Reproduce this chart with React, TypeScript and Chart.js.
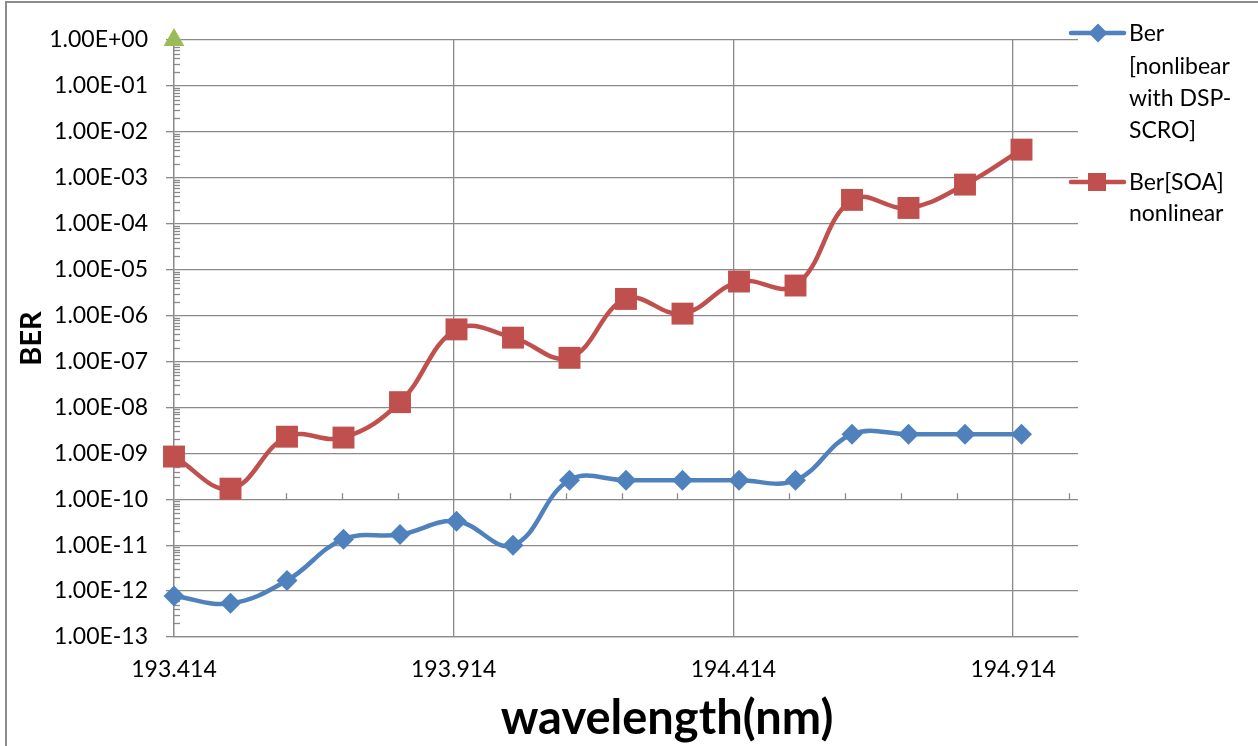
import React, { useEffect, useRef } from "react";
import { Chart, registerables } from "chart.js";

Chart.register(...registerables);

// ---- data ----
const wavelengths = [
  193.414, 193.515, 193.616, 193.717, 193.818, 193.919, 194.02, 194.121,
  194.222, 194.323, 194.424, 194.525, 194.626, 194.727, 194.828, 194.929,
];
const berDsp = [
  7.8e-13, 5.4e-13, 1.7e-12, 1.35e-11, 1.7e-11, 3.3e-11, 1.0e-11, 2.6e-10,
  2.6e-10, 2.6e-10, 2.6e-10, 2.6e-10, 2.6e-9, 2.6e-9, 2.6e-9, 2.6e-9,
];
const berSoa = [
  8.5e-10, 1.7e-10, 2.3e-9, 2.2e-9, 1.3e-8, 5.0e-7, 3.3e-7, 1.2e-7,
  2.3e-6, 1.1e-6, 5.5e-6, 4.5e-6, 3.3e-4, 2.2e-4, 7.1e-4, 4.1e-3,
];
const markerX = [193.414];
const markerY = [1];
const xTickValues = [193.414, 193.914, 194.414, 194.914];
const xMinorStep = 0.1;
const yExponents = [-13, -12, -11, -10, -9, -8, -7, -6, -5, -4, -3, -2, -1, 0];
const legendDsp = ["Ber", "[nonlibear", "with DSP-", "SCRO]"];
const legendSoa = ["Ber[SOA]", "nonlinear"];
const xTitle = "wavelength(nm)";
const yTitle = "BER";

const BLUE = "#4F81BD";
const RED = "#C0504D";
const GREEN = "#9BBB59";
const GRID = "#8a8a8a";
const FONT = "Lato";

function fmtExp(v: number): string {
  const e = Math.round(Math.log10(v));
  return `1.00E${e < 0 ? "-" : "+"}${String(Math.abs(e)).padStart(2, "0")}`;
}

const extrasPlugin = {
  id: "extras",
  beforeDatasetsDraw(chart: any) {
    const { ctx, chartArea, scales } = chart;
    const xs = scales.x;
    const ys = scales.y;
    ctx.save();
    ctx.strokeStyle = GRID;
    ctx.lineWidth = 1.3;
    // y minor ticks (inside)
    for (let i = 0; i < yExponents.length - 1; i++) {
      for (let k = 2; k <= 9; k++) {
        const y = Math.round(ys.getPixelForValue(k * Math.pow(10, yExponents[i]))) + 0.5;
        ctx.beginPath();
        ctx.moveTo(chartArea.left, y);
        ctx.lineTo(chartArea.left + 6, y);
        ctx.stroke();
      }
    }
    // x minor ticks on the crossing line at 1e-10
    const yc = ys.getPixelForValue(1e-10);
    for (let i = 1; i <= 16; i++) {
      if (i % 5 === 0) continue;
      const x = Math.round(xs.getPixelForValue(xTickValues[0] + i * xMinorStep)) + 0.5;
      ctx.beginPath();
      ctx.moveTo(x, yc);
      ctx.lineTo(x, yc - 6);
      ctx.stroke();
    }
    ctx.restore();
  },
  afterDraw(chart: any) {
    const { ctx } = chart;
    ctx.save();
    // frame
    ctx.strokeStyle = "#8c8c8c";
    ctx.lineWidth = 2;
    ctx.beginPath();
    ctx.moveTo(6, 800);
    ctx.lineTo(6, 2);
    ctx.lineTo(1300, 2);
    ctx.stroke();

    // x axis title
    ctx.fillStyle = "#000";
    ctx.font = `bold 47px ${FONT}`;
    ctx.textAlign = "center";
    ctx.textBaseline = "alphabetic";
    ctx.fillText(xTitle, 667, 734);

    // legend
    ctx.lineCap = "round";
    ctx.lineWidth = 4.5;
    ctx.strokeStyle = BLUE;
    ctx.beginPath();
    ctx.moveTo(1071, 33);
    ctx.lineTo(1124, 33);
    ctx.stroke();
    ctx.fillStyle = BLUE;
    ctx.beginPath();
    ctx.moveTo(1098 - 9.5, 33);
    ctx.lineTo(1098, 33 - 9.5);
    ctx.lineTo(1098 + 9.5, 33);
    ctx.lineTo(1098, 33 + 9.5);
    ctx.closePath();
    ctx.fill();

    ctx.strokeStyle = RED;
    ctx.beginPath();
    ctx.moveTo(1071, 182);
    ctx.lineTo(1124, 182);
    ctx.stroke();
    ctx.fillStyle = RED;
    ctx.fillRect(1097 - 9, 182 - 9, 18, 18);

    ctx.fillStyle = "#000";
    ctx.font = `23px ${FONT}`;
    ctx.textBaseline = "middle";
    ctx.textAlign = "left";
    legendDsp.forEach((t, i) => ctx.fillText(t, 1129, 34 + i * 32.3));
    legendSoa.forEach((t, i) => ctx.fillText(t, 1129, 183 + i * 31));
    ctx.restore();
  },
};

export default function App() {
  const ref = useRef<HTMLCanvasElement | null>(null);

  useEffect(() => {
    document.body.style.margin = "0";
    const canvas = ref.current;
    if (!canvas) return;
    const chart = new Chart(canvas, {
      type: "line",
      data: {
        datasets: [
          {
            label: "Ber [nonlibear with DSP-SCRO]",
            data: wavelengths.map((x, i) => ({ x, y: berDsp[i] })),
            borderColor: BLUE,
            backgroundColor: BLUE,
            borderWidth: 4.5,
            pointStyle: "rectRot",
            pointRadius: 10.5,
            pointBorderWidth: 0,
            tension: 0.4,
            clip: false,
          },
          {
            label: "Ber[SOA] nonlinear",
            data: wavelengths.map((x, i) => ({ x, y: berSoa[i] })),
            borderColor: RED,
            backgroundColor: RED,
            borderWidth: 4.5,
            pointStyle: "rect",
            pointRadius: 15.5,
            pointBorderWidth: 0,
            tension: 0.4,
            clip: false,
          },
          {
            label: "marker",
            data: markerX.map((x, i) => ({ x, y: markerY[i] })),
            borderColor: GREEN,
            backgroundColor: GREEN,
            showLine: false,
            pointStyle: "triangle",
            pointRadius: 12,
            pointBorderWidth: 0,
            clip: false,
          },
        ],
      },
      options: {
        responsive: false,
        animation: false,
        layout: { padding: { top: 40, right: 180, bottom: 0, left: 0 } },
        plugins: { legend: { display: false }, tooltip: { enabled: false } },
        font: { family: FONT },
        scales: {
          x: {
            type: "linear",
            min: 193.414,
            max: 195.03,
            afterBuildTicks: (s: any) => {
              s.ticks = xTickValues.map((v) => ({ value: v }));
            },
            afterFit: (s: any) => {
              s.height = 109;
            },
            ticks: {
              callback: (v: any) => Number(v).toFixed(3),
              font: { family: FONT, size: 23 },
              color: "#000",
              padding: 19,
              maxRotation: 0,
              autoSkip: false,
            },
            grid: { color: GRID, lineWidth: 1.3, drawTicks: false },
            border: { color: GRID, width: 1.3 },
            title: { display: false },
          },
          y: {
            type: "logarithmic",
            min: 1e-13,
            max: 1,
            afterBuildTicks: (s: any) => {
              s.ticks = yExponents.map((e) => ({ value: Math.pow(10, e) }));
            },
            afterFit: (s: any) => {
              s.width = 174;
            },
            ticks: {
              callback: (v: any) => fmtExp(Number(v)),
              font: { family: FONT, size: 23 },
              color: "#000",
              padding: 18,
              autoSkip: false,
            },
            grid: { color: GRID, lineWidth: 1.3, tickLength: 8 },
            border: { color: GRID, width: 1.3 },
            title: {
              display: true,
              text: yTitle,
              font: { family: FONT, size: 29, weight: "bold" },
              color: "#000",
              padding: { top: 14, bottom: 0 },
            },
          },
        },
      },
      plugins: [extrasPlugin],
    } as any);
    return () => chart.destroy();
  }, []);

  return <canvas ref={ref} width={1258} height={746} style={{ display: "block" }} />;
}
